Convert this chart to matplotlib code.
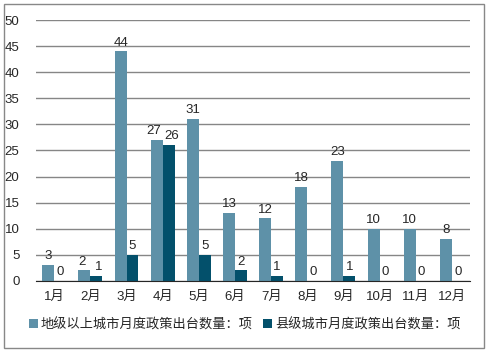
import matplotlib.pyplot as plt
import numpy as np
from matplotlib.patches import Rectangle

plt.rcParams['font.family'] = ['Liberation Sans', 'Noto Sans CJK SC', 'DejaVu Sans']

months = ["1月", "2月", "3月", "4月", "5月", "6月", "7月", "8月", "9月", "10月", "11月", "12月"]
city_counts = [3, 2, 44, 27, 31, 13, 12, 18, 23, 10, 10, 8]
county_counts = [0, 1, 5, 26, 5, 2, 1, 0, 1, 0, 0, 0]
city_name = "地级以上城市月度政策出台数量：项"
county_name = "县级城市月度政策出台数量：项"

c1 = "#5E91A8"
c2 = "#03506B"
txt = "#262626"

fig = plt.figure(figsize=(4.89, 3.52), dpi=100)
ax = fig.add_axes([0.074, 0.202, 0.887, 0.741])

x = np.arange(len(months))
w = 0.33
b1 = ax.bar(x - w / 2, city_counts, w, color=c1, label=city_name, zorder=3)
b2 = ax.bar(x + w / 2, county_counts, w, color=c2, label=county_name, zorder=3)

# value labels; nudge apart when the two bars are about the same height
for i in range(len(months)):
    close = abs(city_counts[i] - county_counts[i]) < 3
    for bars, vals, dx in ((b1, city_counts, -2), (b2, county_counts, 2)):
        r = bars[i]
        ax.annotate(str(vals[i]), (r.get_x() + r.get_width() / 2, vals[i]),
                    xytext=(dx if close else 0, 2), textcoords="offset points",
                    ha="center", va="bottom", fontsize=9.5, color=txt)

ax.set_xlim(-0.5, 11.5)
ax.set_ylim(0, 50)
ax.set_yticks(range(0, 51, 5))
ax.set_xticks(x)
ax.set_xticklabels(months)
ax.tick_params(length=0, labelsize=9.5, colors=txt)
ax.tick_params(axis="x", pad=7)
ax.tick_params(axis="y", pad=12)
ax.grid(axis="y", color="#868686", linewidth=1, zorder=0)
for s in ["top", "right", "left"]:
    ax.spines[s].set_visible(False)
ax.spines["bottom"].set_color("#262626")
ax.spines["bottom"].set_zorder(4)

fig.legend(handles=[b1, b2], loc="lower center", bbox_to_anchor=(0.5, 0.025), ncol=2,
           frameon=False, fontsize=9.5, handlelength=0.7, handleheight=0.7,
           handletextpad=0.2, columnspacing=0.8, labelcolor=txt)

fig.patches.append(Rectangle((0.008, 0.011), 0.982, 0.978, transform=fig.transFigure,
                             fill=False, edgecolor="#888888", linewidth=1))

plt.savefig("out.png", dpi=100)
